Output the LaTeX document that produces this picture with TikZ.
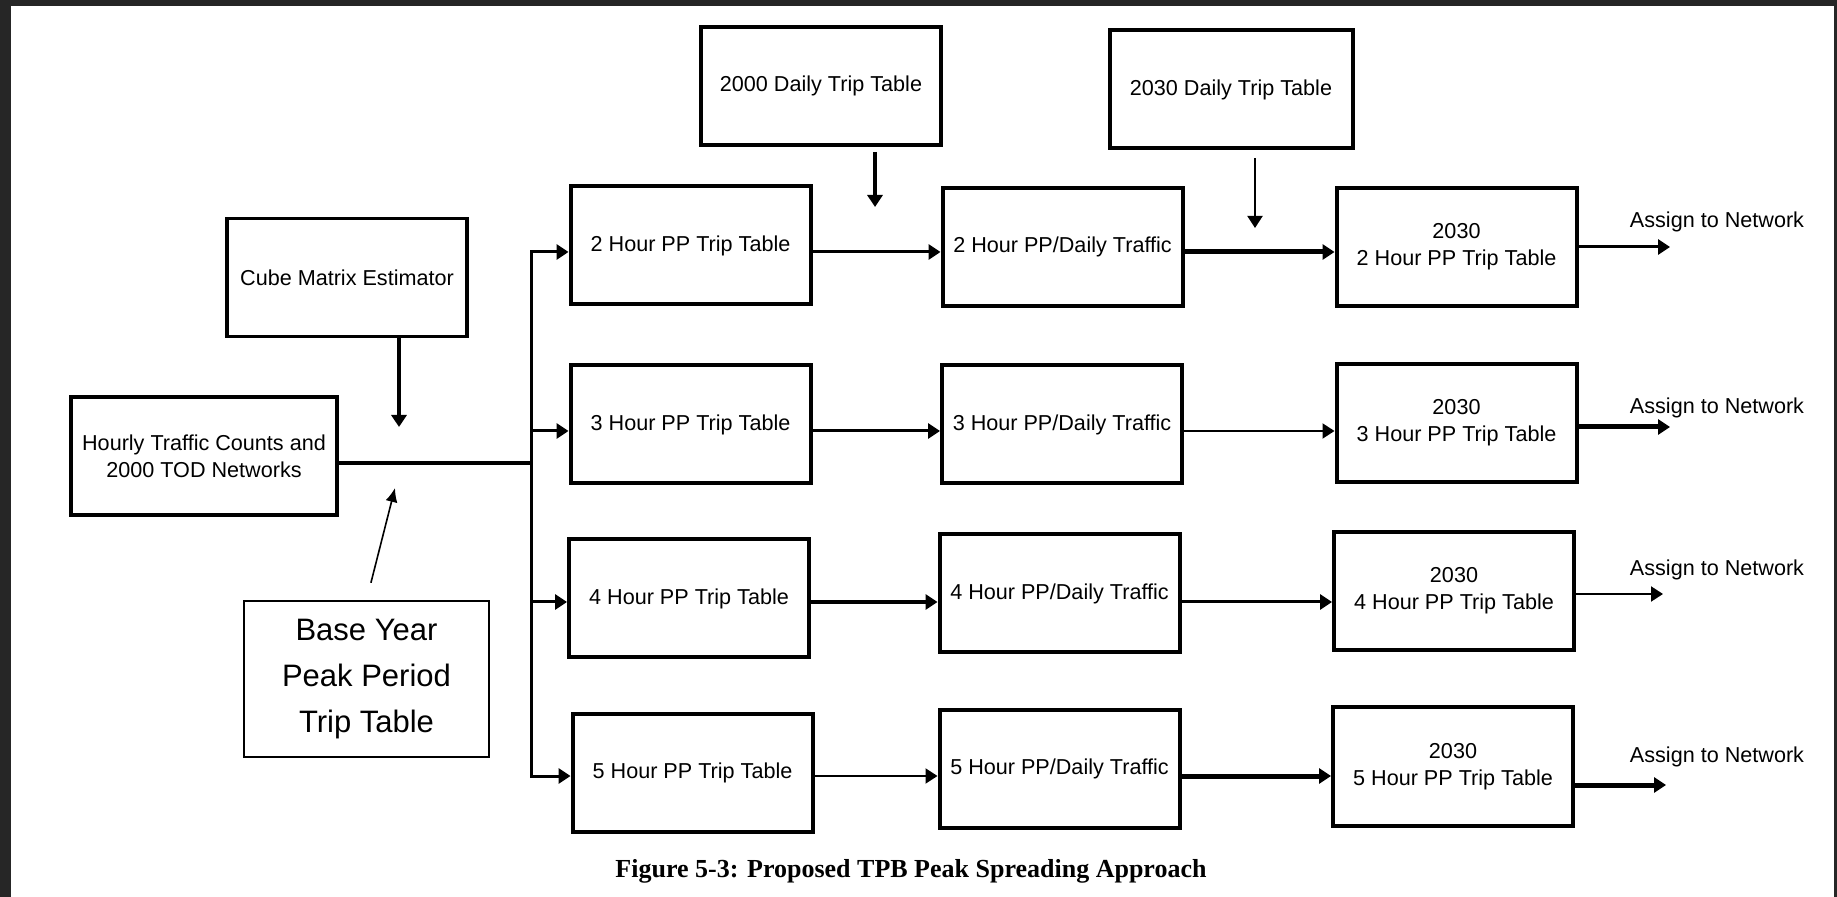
\documentclass[tikz,border=0pt]{standalone}
\usepackage{fontspec}
\setmainfont{Liberation Sans}
\newfontfamily\capfont{Liberation Serif}
\usetikzlibrary{arrows.meta}

\begin{document}
\begin{tikzpicture}[x=0.5pt,y=-0.5pt]
	\tikzset{box/.style={draw,line width=2pt,minimum width=120pt,minimum height=59pt,align=center,inner sep=2pt,font=\fontsize{10.8}{13.5}\selectfont}}
	\tikzset{wire/.style={line width=1.5pt}}
	\tikzset{feed/.style={line width=1.5pt,-{Triangle[length=6pt,width=7.5pt]}}}
	\tikzset{note/.style={font=\fontsize{10.8}{13}\selectfont}}
	% frame of the screenshot
	\useasboundingbox (0,0) rectangle (1837,897);
	\fill[black!85] (0,0) rectangle (1837,897);
	\fill[white] (11,6) rectangle (1834,897);
	% inputs
	\node[box] (day2000) at (821,86) {2000 Daily Trip Table};
	\node[box,minimum width=121.5pt] (day2030) at (1231,89.5) {2030 Daily Trip Table};
	\node[box,line width=1.6pt] (cube) at (347,277.5) {Cube Matrix Estimator};
	\node[box,line width=1.6pt,minimum width=133pt] (hourly) at (204,456) {Hourly Traffic Counts and\\2000 TOD Networks};
	\node[box,line width=0.8pt,minimum width=122.5pt,minimum height=78pt,font=\fontsize{15.5}{23}\selectfont] (base) at (366.5,679) {Base Year\\Peak Period\\Trip Table};
	% peak period trip tables
	\node[box] (trip1) at (690.5,245.5) {2 Hour PP Trip Table};
	\node[box] (trip2) at (690.5,424.5) {3 Hour PP Trip Table};
	\node[box] (trip3) at (689,598.5) {4 Hour PP Trip Table};
	\node[box] (trip4) at (692.5,773) {5 Hour PP Trip Table};
	% pp/daily factors
	\node[box] (daily1) at (1062.5,247) {2 Hour PP/Daily Traffic};
	\node[box] (daily2) at (1062,424.5) {3 Hour PP/Daily Traffic};
	\node[box] (daily3) at (1059.5,593.5) {4 Hour PP/Daily Traffic};
	\node[box] (daily4) at (1059.5,769) {5 Hour PP/Daily Traffic};
	% future tables
	\node[box] (fut1) at (1456.5,247) {2030\\2 Hour PP Trip Table};
	\node[box] (fut2) at (1456.5,423) {2030\\3 Hour PP Trip Table};
	\node[box] (fut3) at (1454,591) {2030\\4 Hour PP Trip Table};
	\node[box] (fut4) at (1453,766.5) {2030\\5 Hour PP Trip Table};
	% outputs
	\node[note] (lab1) at (1717,222) {Assign to Network};
	\node[note] (lab2) at (1717,408) {Assign to Network};
	\node[note] (lab3) at (1717,570) {Assign to Network};
	\node[note] (lab4) at (1717,757) {Assign to Network};
	\coordinate (tip1) at (1670,247);
	\coordinate (tip2) at (1670,427);
	\coordinate (tip3) at (1663,594);
	\coordinate (tip4) at (1666,785);
	% bus
	\coordinate (hub) at (531,463);
	\coordinate (row1) at (531,252);
	\coordinate (row2) at (531,431);
	\coordinate (row3) at (531,602);
	\coordinate (row4) at (531,776);
	\coordinate (drop0) at (399,427);
	\coordinate (drop1) at (875,207);
	\coordinate (drop2) at (1255,228);
	\coordinate (point) at (395,488);
	\draw[wire,line width=2pt] (hourly.east |- hub) -- (hub);
	\draw[wire,line cap=rect] (row1) -- (row4);
	\draw[feed] (row1) -- (trip1.west |- row1);
	\draw[feed] (row2) -- (trip2.west |- row2);
	\draw[feed] (row3) -- (trip3.west |- row3);
	\draw[feed] (row4) -- (trip4.west |- row4);
	\draw[feed,line width=2pt] (cube.south -| drop0) -- (drop0);
	\draw[line width=0.8pt,-{Latex[length=7pt,width=6pt]},shorten <=9pt] (base.north) -- (point);
	\draw[feed,line width=2pt,shorten <=2.5pt] (day2000.south -| drop1) -- (drop1);
	\draw[feed,line width=1pt,shorten <=4pt] (day2030.south -| drop2) -- (drop2);
	% rows
	\draw[feed] (trip1.east |- row1) -- (daily1.west |- row1);
	\draw[feed] (trip2.east |- row2) -- (daily2.west |- row2);
	\draw[feed,line width=2pt] (trip3.east |- row3) -- (daily3.west |- row3);
	\draw[feed,line width=1pt] (trip4.east |- row4) -- (daily4.west |- row4);
	\draw[feed,line width=2.5pt] (daily1.east |- row1) -- (fut1.west |- row1);
	\draw[feed,line width=1pt] (daily2.east |- row2) -- (fut2.west |- row2);
	\draw[feed] (daily3.east |- row3) -- (fut3.west |- row3);
	\draw[feed,line width=2.5pt] (daily4.east |- row4) -- (fut4.west |- row4);
	\draw[feed] (fut1.east |- tip1) -- (tip1);
	\draw[feed,line width=2.5pt] (fut2.east |- tip2) -- (tip2);
	\draw[feed,line width=1pt] (fut3.east |- tip3) -- (tip3);
	\draw[feed,line width=2.5pt] (fut4.east |- tip4) -- (tip4);
	\node[font=\capfont\bfseries\fontsize{13}{15}\selectfont] (caption) at (911,871) {Figure 5-3: Proposed TPB Peak Spreading Approach};
\end{tikzpicture}
\end{document}
